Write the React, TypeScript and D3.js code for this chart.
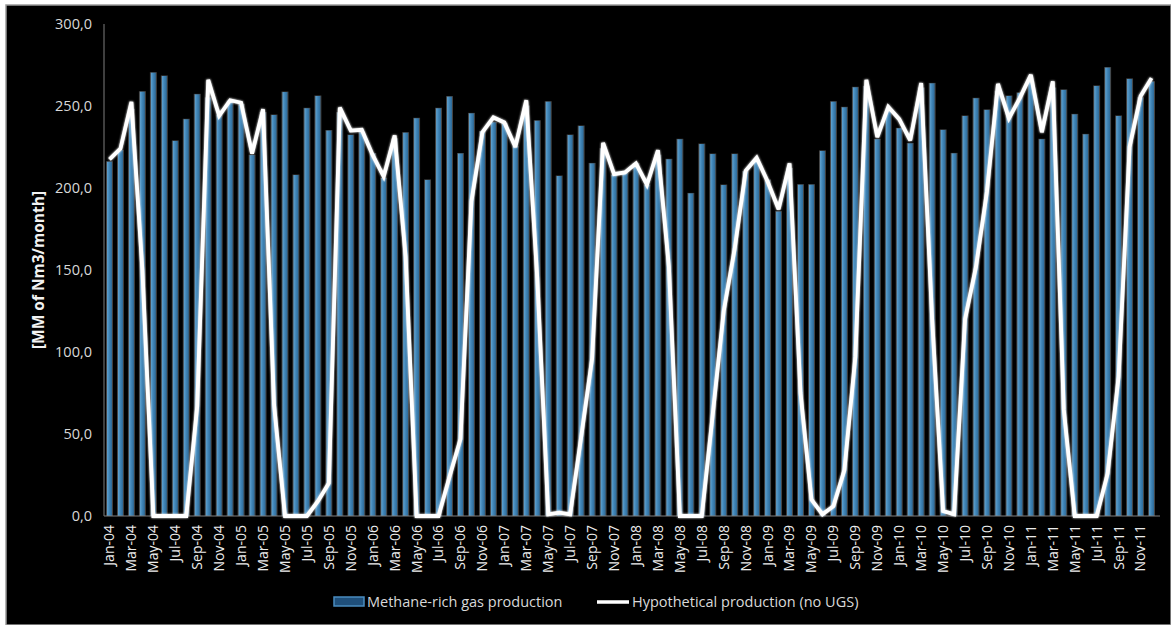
import React from 'react';
import * as d3 from 'd3';

const MONTH_NAMES = ['Jan', 'Feb', 'Mar', 'Apr', 'May', 'Jun', 'Jul', 'Aug', 'Sep', 'Oct', 'Nov', 'Dec'];
const YEARS = ['04', '05', '06', '07', '08', '09', '10', '11'];
const categories = YEARS.flatMap((y) => MONTH_NAMES.map((m) => `${m}-${y}`));

// Methane-rich gas production [MM Nm3/month]
const methaneRich = [
  216, 223, 248, 258.7, 270.3, 268.3, 228.7, 241.9, 257.1, 255, 244.5, 253,
  251, 220, 246, 244.5, 258.5, 207.9, 248.6, 256.1, 235, 246, 232.3, 234,
  221, 206, 230, 233.7, 242.5, 204.9, 248.6, 255.7, 221, 245.5, 234.4, 240,
  239.4, 225.2, 250, 241, 252.6, 207.3, 232.3, 237.8, 215, 224, 208, 209,
  215, 201.8, 220, 217.5, 229.7, 196.7, 226.8, 220.7, 201.8, 220.7, 210, 217,
  204.9, 185.6, 212, 202, 202, 222.6, 252.6, 249.2, 261.4, 262, 229.7, 247,
  236.4, 227.2, 261, 263.8, 235.4, 221.1, 243.9, 254.7, 247.6, 259, 256.1, 258,
  265, 229.7, 261, 259.8, 244.9, 232.7, 262.2, 273.4, 243.9, 266.5, 255, 264.8,
];

// Hypothetical production (no UGS)
const hypothetical = [
  217.5, 224, 252.5, 150, 0, 0, 0, 0, 67, 266, 244, 253.5,
  252, 221, 248, 68, 0, 0, 0, 9, 20, 249, 235, 235.5,
  220, 207, 232, 158, 0, 0, 0, 24, 47, 192, 234, 243,
  240, 225, 253.5, 145, 1, 2, 1, 48, 96, 227.5, 208.5, 209.5,
  215, 202, 223, 152, 0, 0, 0, 62, 125, 163, 210.5, 218.5,
  204, 187, 215, 75, 10, 1, 6, 28, 97, 266, 231, 249.5,
  242, 229, 264, 120, 3, 1, 120, 152, 198, 263.5, 242.5, 255,
  269, 234, 265, 65, 0, 0, 0, 26, 85, 225, 256, 267,
];

const yTicks = [0, 50, 100, 150, 200, 250, 300];
const labelEvery = 2;

const FONT = '"Open Sans", "Noto Sans", sans-serif';

export default function App() {
  const W = 1171;
  const H = 625;
  const plotLeft = 104;
  const plotRight = 1157;
  const plotTop = 24;
  const plotBottom = 516;

  const x = d3
    .scaleBand<string>()
    .domain(categories)
    .range([plotLeft, plotRight])
    .paddingInner(0.55)
    .paddingOuter(0.275);
  const y = d3.scaleLinear().domain([0, 300]).range([plotBottom, plotTop]);
  const bw = x.bandwidth();
  const cx = (c: string) => (x(c) as number) + bw / 2;

  const linePath = d3
    .line<number>()
    .x((_, i) => cx(categories[i]))
    .y((v) => y(v))(hypothetical) as string;

  const fmt = (v: number) => v.toFixed(1).replace('.', ',');

  return (
    <svg
      width={W}
      height={H}
      style={{ position: 'absolute', left: 0, top: 0, display: 'block' }}
      fontFamily={FONT}
    >
      <defs>
        <linearGradient id="barGrad" x1="0" x2="1" y1="0" y2="0">
          <stop offset="0%" stopColor="#62a3d0" />
          <stop offset="45%" stopColor="#4186b8" />
          <stop offset="100%" stopColor="#2d6a98" />
        </linearGradient>
        <filter id="glow" x="-20%" y="-20%" width="140%" height="140%">
          <feGaussianBlur stdDeviation="1" result="b" />
          <feMerge>
            <feMergeNode in="b" />
            <feMergeNode in="SourceGraphic" />
          </feMerge>
        </filter>
      </defs>
      <rect x={0} y={0} width={W} height={H} fill="#ffffff" />
      <rect x={6} y={5} width={W - 6} height={H - 5} fill="#000000" stroke="#9a9a9a" strokeWidth={1.5} />

      {/* bars */}
      <g>
        {categories.map((c, i) => (
          <g key={c}>
            <rect
              x={(x(c) as number) - 1}
              y={y(methaneRich[i]) - 0.5}
              width={bw + 2}
              height={plotBottom - y(methaneRich[i]) + 0.5}
              fill="rgba(215,215,215,0.32)"
            />
            <rect
              x={x(c)}
              y={y(methaneRich[i])}
              width={bw}
              height={plotBottom - y(methaneRich[i])}
              fill="url(#barGrad)"
            />
          </g>
        ))}
      </g>

      {/* axes */}
      <line x1={plotLeft} x2={plotLeft} y1={plotTop} y2={plotBottom} stroke="#7f7f7f" strokeWidth={1} />
      <line x1={plotLeft} x2={plotRight + 3} y1={plotBottom} y2={plotBottom} stroke="#7f7f7f" strokeWidth={1} />

      {/* line */}
      <path
        d={linePath}
        fill="none"
        stroke="#ffffff"
        strokeWidth={3.8}
        strokeLinejoin="miter"
        strokeMiterlimit={3}
        filter="url(#glow)"
      />

      {/* y ticks */}
      {yTicks.map((t) => (
        <text
          key={t}
          x={92}
          y={y(t)}
          dy="0.35em"
          textAnchor="end"
          fontSize={14.5}
          fill="#d9d9d9"
        >
          {fmt(t)}
        </text>
      ))}

      {/* x labels */}
      {categories.map((c, i) =>
        i % labelEvery === 0 ? (
          <text
            key={c}
            transform={`translate(${cx(c)},${plotBottom + 9}) rotate(-90)`}
            dy="0.35em"
            textAnchor="end"
            fontSize={14}
            fill="#ececec"
          >
            {c}
          </text>
        ) : null
      )}

      {/* y title */}
      <text
        transform={`translate(39,${(plotTop + plotBottom) / 2}) rotate(-90)`}
        dy="0.35em"
        textAnchor="middle"
        fontSize={15.5}
        fontWeight="bold"
        fill="#f2f2f2"
      >
        [MM of Nm3/month]
      </text>

      {/* legend */}
      <g>
        <rect x={334} y={597} width={30} height={9} fill="#1f4f7a" stroke="#4a8cc0" strokeWidth={1.5} />
        <text x={367} y={602} dy="0.35em" fontSize={14.5} fill="#d9d9d9">
          Methane-rich gas production
        </text>
        <line x1={597} x2={629} y1={602} y2={602} stroke="#ffffff" strokeWidth={3.5} />
        <text x={632} y={602} dy="0.35em" fontSize={14.5} fill="#d9d9d9">
          Hypothetical production (no UGS)
        </text>
      </g>
    </svg>
  );
}
